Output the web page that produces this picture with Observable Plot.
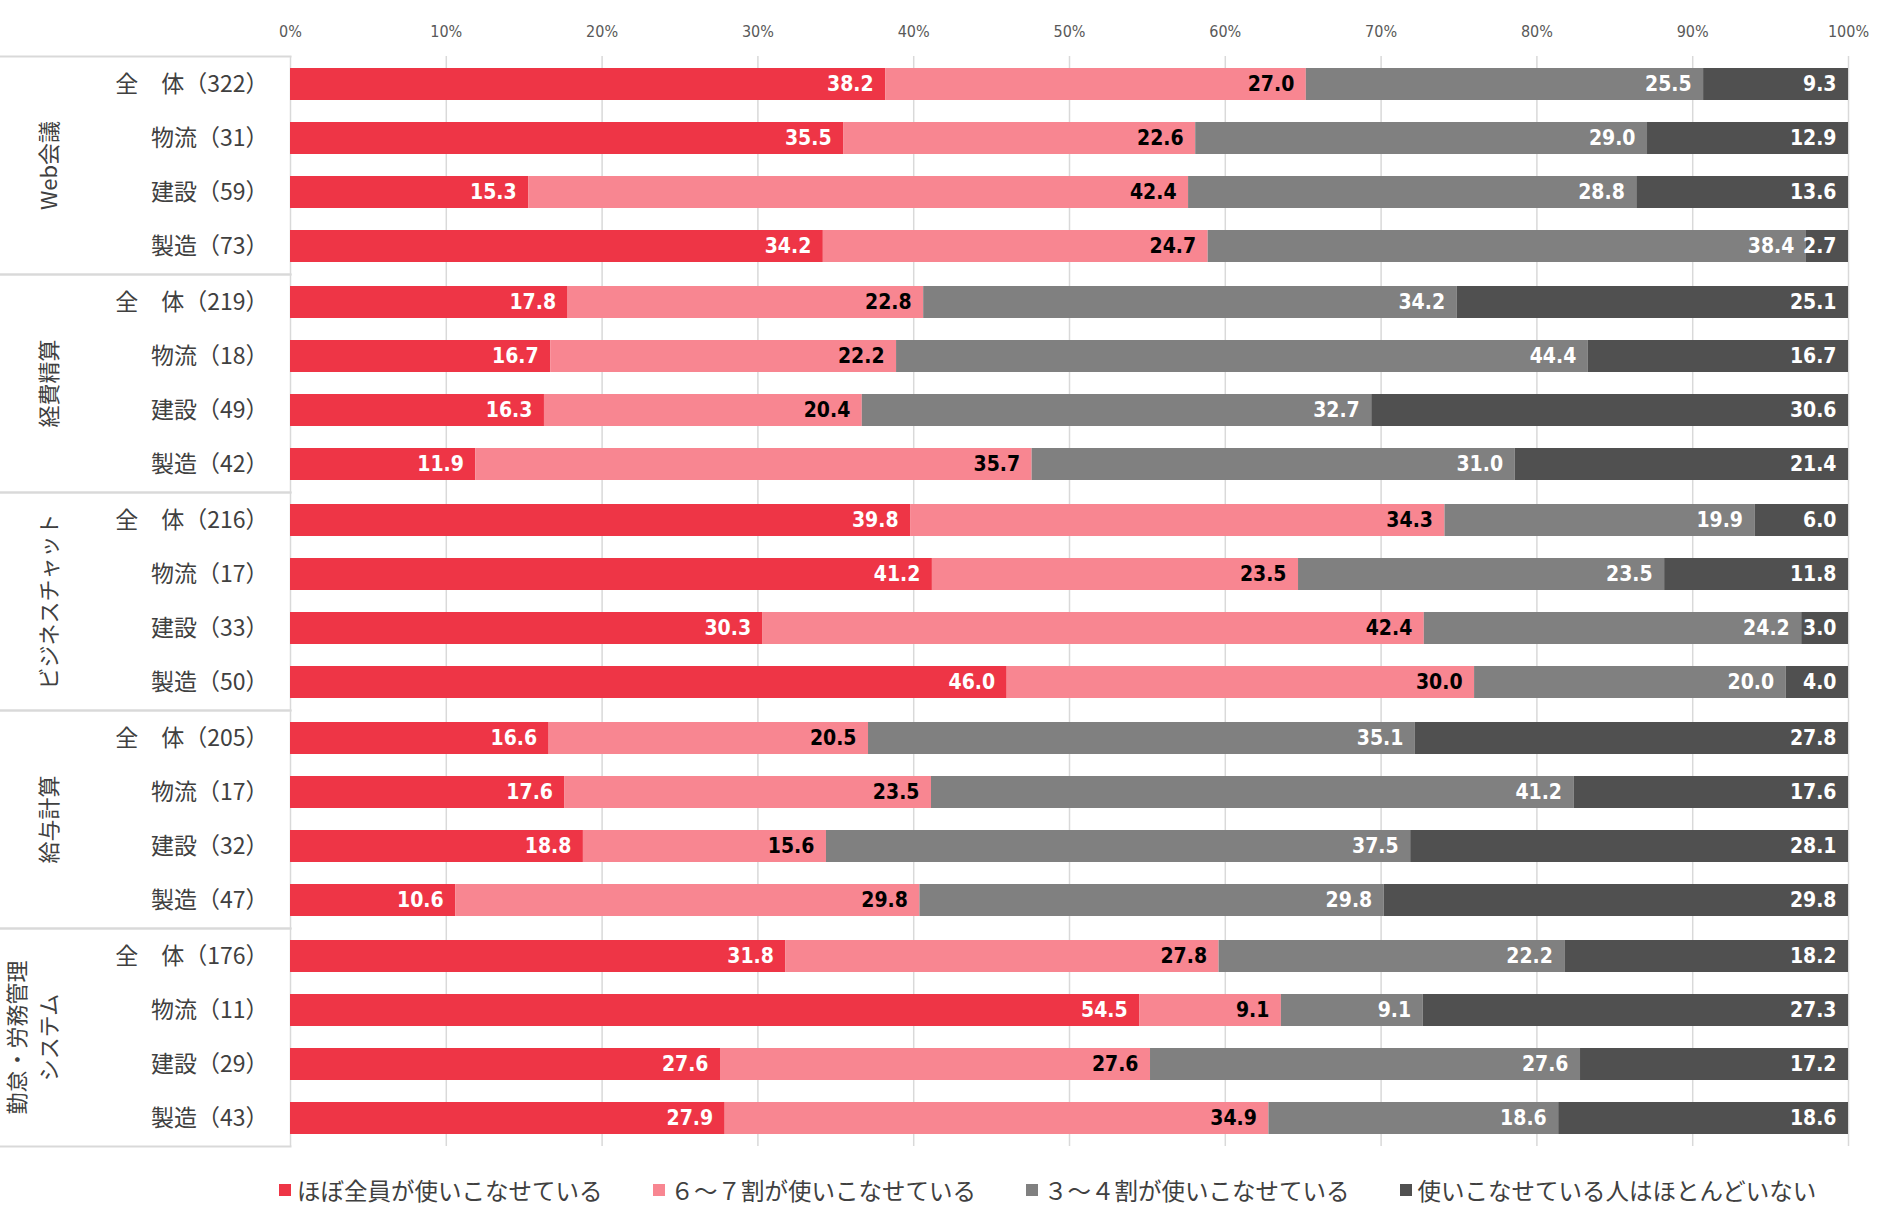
<!DOCTYPE html>
<html>
<head>
<meta charset="utf-8">
<script src="https://cdn.jsdelivr.net/npm/d3@7"></script>
<script src="https://cdn.jsdelivr.net/npm/@observablehq/plot@0.6"></script>
<style>
  body { margin: 0; background: #fff; }
  #legend { display: flex; align-items: center; height: 60px; padding-left: 279px; box-sizing: border-box;
            font-family: 'Noto Sans CJK JP', sans-serif; font-size: 23.5px; color: #404040; gap: 50px; }
  #legend .item { display: flex; align-items: center; }
  #legend .sw { width: 12px; height: 12px; margin-right: 6px; }
</style>
</head>
<body>
<div id="chart"></div>
<div id="legend"></div>
<script>
// ---- data ----
const groups = ["Web会議", "経費精算", "ビジネスチャット", "給与計算", "勤怠・労務管理システム"];
const groupLabels = ["Web会議", "経費精算", "ビジネスチャット", "給与計算", "勤怠・労務管理\nシステム"];
const industries = ["全体", "物流", "建設", "製造"];
const industryLabels = ["全　体", "物流", "建設", "製造"];
const counts = [
  [322, 31, 59, 73],
  [219, 18, 49, 42],
  [216, 17, 33, 50],
  [205, 17, 32, 47],
  [176, 11, 29, 43]
];
const categories = ["ほぼ全員が使いこなせている", "６～７割が使いこなせている", "３～４割が使いこなせている", "使いこなせている人はほとんどいない"];
const colors = ["#EE3546", "#F88691", "#808080", "#505050"];
const almostAll = [38.2, 35.5, 15.3, 34.2, 17.8, 16.7, 16.3, 11.9, 39.8, 41.2, 30.3, 46.0, 16.6, 17.6, 18.8, 10.6, 31.8, 54.5, 27.6, 27.9];
const sixtySeventy = [27.0, 22.6, 42.4, 24.7, 22.8, 22.2, 20.4, 35.7, 34.3, 23.5, 42.4, 30.0, 20.5, 23.5, 15.6, 29.8, 27.8, 9.1, 27.6, 34.9];
const thirtyForty = [25.5, 29.0, 28.8, 38.4, 34.2, 44.4, 32.7, 31.0, 19.9, 23.5, 24.2, 20.0, 35.1, 41.2, 37.5, 29.8, 22.2, 9.1, 27.6, 18.6];
const hardlyAny = [9.3, 12.9, 13.6, 2.7, 25.1, 16.7, 30.6, 21.4, 6.0, 11.8, 3.0, 4.0, 27.8, 17.6, 28.1, 29.8, 18.2, 27.3, 17.2, 18.6];
const xTicks = [0, 0.1, 0.2, 0.3, 0.4, 0.5, 0.6, 0.7, 0.8, 0.9, 1];

// ---- tables ----
const series = [almostAll, sixtySeventy, thirtyForty, hardlyAny];
const data = [];
const rows = [];
groups.forEach((g, gi) => {
  industries.forEach((ind, ii) => {
    rows.push({group: g, ind, label: `${industryLabels[ii]}（${counts[gi][ii]}）`});
    categories.forEach((c, ci) => {
      data.push({group: g, ind, cat: c, value: series[ci][gi * 4 + ii]});
    });
  });
});
const groupData = groups.map((g, i) => ({group: g, label: groupLabels[i]}));

// ---- layout ----
const W = 1880, H = 1160, ML = 290, MR = 32, MT = 55, MB = 14;
const PW = W - ML - MR;
const numFont = "'Liberation Sans Narrow', 'DejaVu Sans Condensed', 'Roboto', sans-serif";

const chart = Plot.plot({
  width: W, height: H,
  marginLeft: ML, marginRight: MR, marginTop: MT, marginBottom: MB,
  style: {fontFamily: "'Noto Sans CJK JP', sans-serif", background: "#fff", overflow: "visible"},
  x: {domain: [0, 1], axis: null},
  y: {domain: industries, paddingInner: 0.4, paddingOuter: 0.2, axis: null},
  fy: {domain: groups, padding: 0, axis: null},
  color: {domain: categories, range: colors},
  marks: [
    Plot.gridX(xTicks, {stroke: "#d9d9d9", strokeOpacity: 1, strokeWidth: 1.5}),
    Plot.axisX(xTicks, {anchor: "top", label: null, tickSize: 0, tickPadding: 20, tickFormat: d3.format(".0%"),
      fontSize: 16, fontFamily: numFont, fill: "#595959"}),
    Plot.frame({anchor: "top", insetLeft: -ML, insetRight: PW, stroke: "#d9d9d9", strokeWidth: 2}),
    Plot.frame({anchor: "bottom", insetLeft: -ML, insetRight: PW, stroke: "#d9d9d9", strokeWidth: 2}),
    Plot.barX(data, Plot.stackX({x: "value", y: "ind", fy: "group", fill: "cat", offset: "normalize"})),
    Plot.text(data, Plot.stackX2({
      x: "value", y: "ind", fy: "group", offset: "normalize",
      text: d => d.value.toFixed(1),
      fill: d => d.cat === categories[1] ? "#000000" : "#ffffff",
      textAnchor: "end", dx: -12, fontSize: 21, fontWeight: "bold", fontFamily: numFont
    })),
    Plot.text(rows, {fy: "group", y: "ind", text: "label", frameAnchor: "left", dx: -22,
      textAnchor: "end", fontSize: 23, fill: "#404040"}),
    Plot.text(groupData, {fy: "group", text: "label", frameAnchor: "left", dx: -234, rotate: -90,
      textAnchor: "middle", lineAnchor: "bottom", lineHeight: 1.45, fontSize: 22, fill: "#404040"})
  ]
});
document.getElementById("chart").appendChild(chart);

// ---- legend ----
const legend = d3.select("#legend");
categories.forEach((c, i) => {
  const item = legend.append("div").attr("class", "item");
  item.append("div").attr("class", "sw").style("background", colors[i]);
  item.append("span").text(c);
});
</script>
</body>
</html>
